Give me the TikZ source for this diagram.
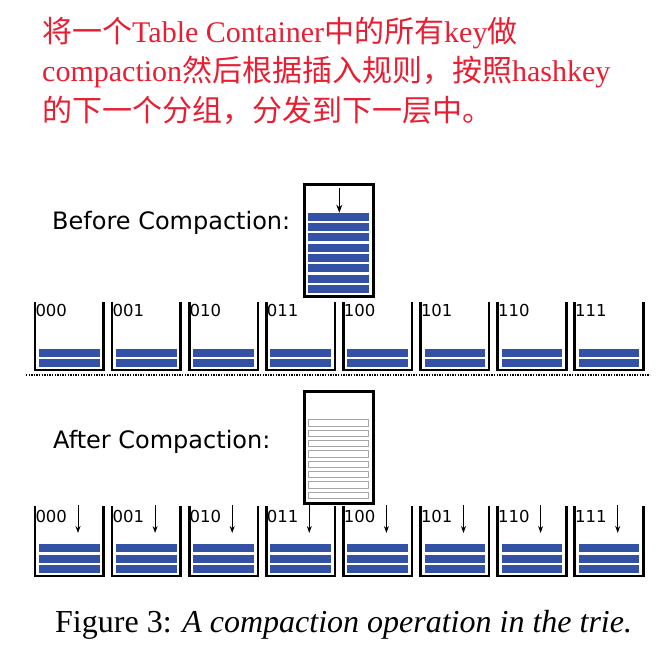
\documentclass[tikz,border=0pt]{standalone}
\usepackage{fontspec}
\setmainfont{Liberation Serif}
\setsansfont{DejaVu Sans}
\newfontfamily\cjk{Noto Sans CJK SC}
\usetikzlibrary{arrows.meta}
\definecolor{barblue}{RGB}{52,82,165}
\definecolor{notered}{RGB}{232,30,50}
\definecolor{slotgray}{RGB}{165,165,165}
\begin{document}
\begin{tikzpicture}[x=1pt,y=-1pt,
    wall/.style={line width=2.6pt},
    bar/.style={fill=barblue},
    emptybar/.style={draw=slotgray,line width=1pt,fill=white},
    drop/.style={-{Stealth[length=7pt,width=5pt]},line width=0.9pt},
    bits/.style={font=\sffamily\fontsize{16.5pt}{16.5pt}\selectfont,inner sep=0pt,anchor=base west},
    phase/.style={font=\sffamily\fontsize{24pt}{24pt}\selectfont,inner sep=0pt,anchor=base west},
    note/.style={font=\fontsize{30pt}{30pt}\selectfont,text=notered,inner sep=0pt,anchor=base west},
    table/.style={draw,line width=2.6pt,minimum width=68.6pt,minimum height=112pt,inner sep=0pt}]
  \useasboundingbox (0,0) rectangle (663,667);

  % the note on top
  \node[note] (line1) at (42,42) {{\cjk 将一个}Table Container{\cjk 中的所有}key{\cjk 做}};
  \node[note] (line2) at (42,81.5) {compaction{\cjk 然后根据插入规则，按照}hashkey};
  \node[note] (line3) at (42,121) {{\cjk 的下一个分组，分发到下一层中。}};

  % before compaction
  \node[phase] (before) at (52,229) {Before Compaction:};
  \node[table] (full) at (339,240.7) {};
  \foreach \k in {0,...,7}
    \fill[bar] (308,212.7+10.33*\k) rectangle (369,220.7+10.33*\k);
  \coordinate (in) at (339.3,188);
  \coordinate (slot) at (339.3,212.7);
  \draw[-{Stealth[length=8pt,width=6pt]},line width=1pt] (in) -- (slot);

  \foreach \i/\b in {0/000,1/001,2/010,3/011,4/100,5/101,6/110,7/111}{
    \pgfmathsetmacro\L{35+77.1*\i}
    \pgfmathsetmacro\R{\L+68.6}
    \draw[wall] (\L,302) -- (\L,370) -- (\R,370) -- (\R,302);
    \fill[bar] (\L+4,349) rectangle (\R-4,357);
    \fill[bar] (\L+4,359) rectangle (\R-4,367);
    \node[bits] (top\b) at (\L+0.3,316.3) {\b};
  }

  % separator
  \coordinate (sepL) at (26,375);
  \coordinate (sepR) at (650,375);
  \draw[dash pattern=on 1.3pt off 1.3pt,line width=1.3pt] (sepL) -- (sepR);

  % after compaction
  \node[phase] (after) at (53,448) {After Compaction:};
  \node[table] (empty) at (339,447.7) {};
  \foreach \k in {0,...,7}
    \draw[emptybar] (308.5,419.8+10.33*\k) rectangle (368.5,426.3+10.33*\k);

  \foreach \i/\b in {0/000,1/001,2/010,3/011,4/100,5/101,6/110,7/111}{
    \pgfmathsetmacro\L{35+77.1*\i}
    \pgfmathsetmacro\R{\L+68.6}
    \draw[wall] (\L,506) -- (\L,576) -- (\R,576) -- (\R,506);
    \foreach \k in {0,1,2}
      \fill[bar] (\L+4,544+10.5*\k) rectangle (\R-4,552+10.5*\k);
    \node[bits] (low\b) at (\L+0.3,522.5) {\b};
    \coordinate (from\b) at (\L+43,505);
    \coordinate (to\b) at (\L+43,533);
    \draw[drop] (from\b) -- (to\b);
  }

  % caption
  \node[anchor=base west,inner sep=0pt,font=\fontsize{32pt}{32pt}\selectfont] (caption) at (55,632)
    {Figure 3: \textit{A compaction operation in the trie.}};
\end{tikzpicture}
\end{document}
